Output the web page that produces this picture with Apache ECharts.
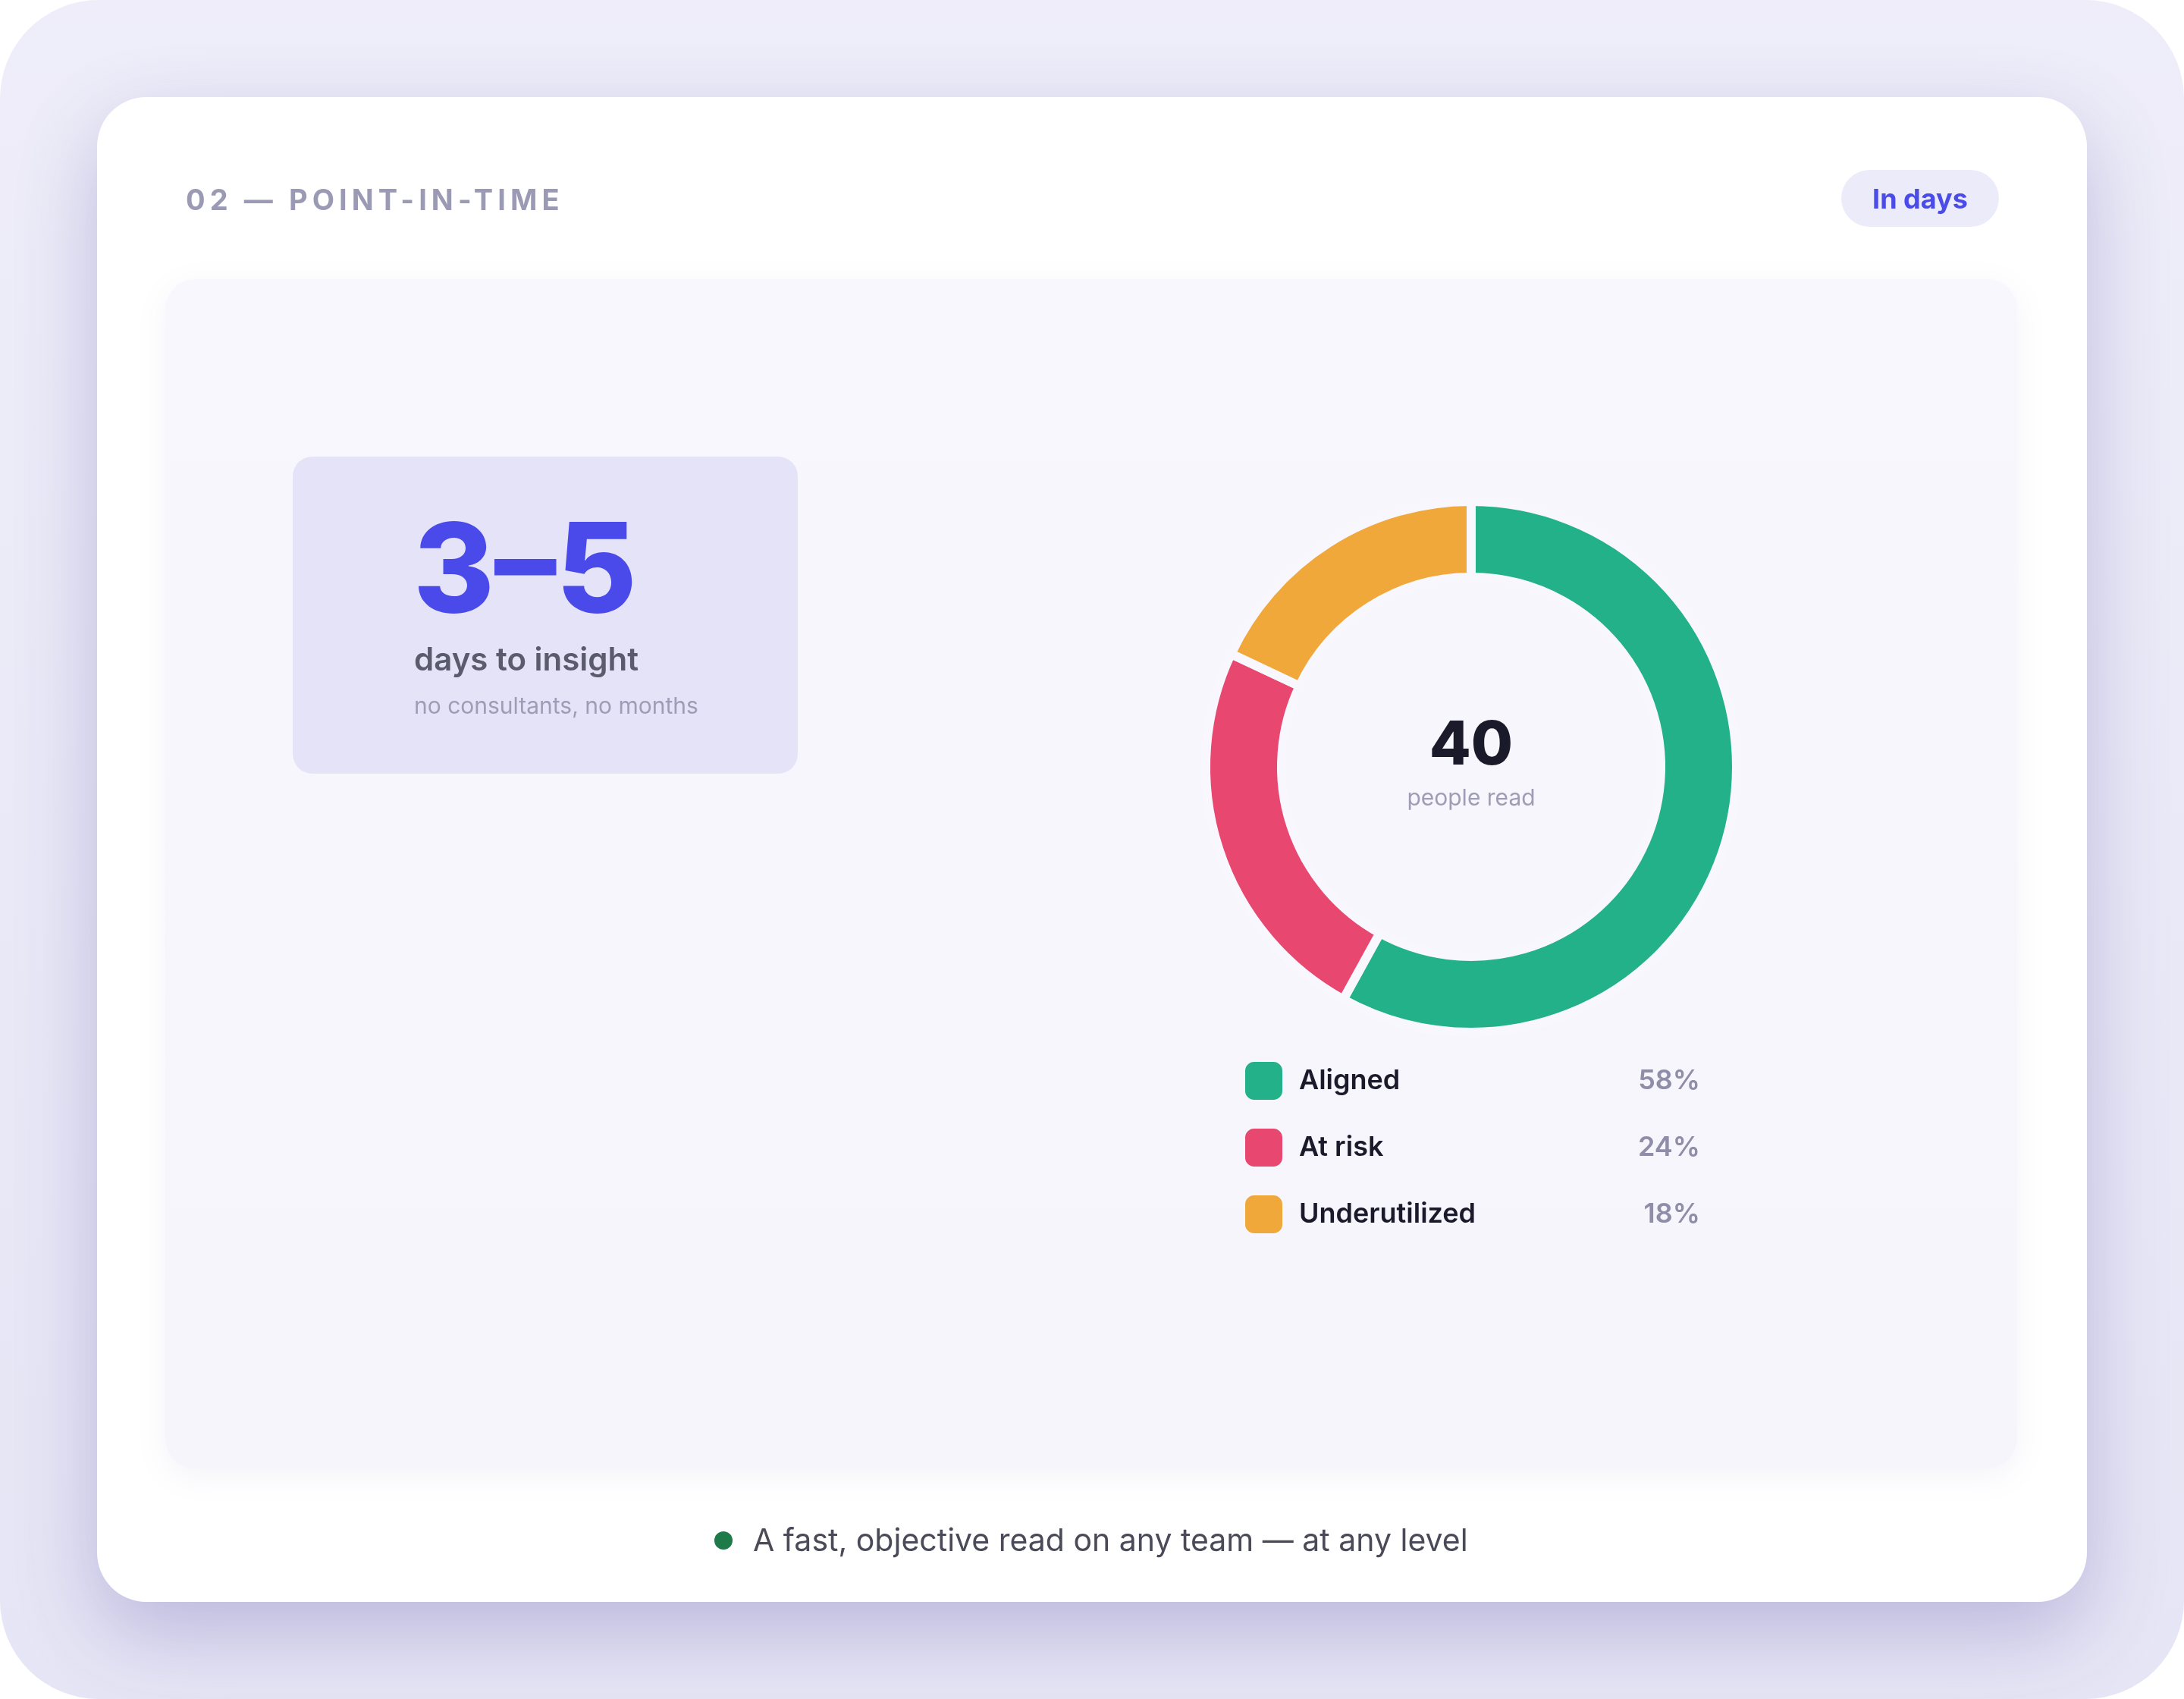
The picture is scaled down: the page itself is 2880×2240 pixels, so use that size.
<!DOCTYPE html>
<html>
<head>
<meta charset="utf-8">
<script src="https://cdn.jsdelivr.net/npm/echarts@6/dist/echarts.min.js"></script>
<style>
  html, body { margin: 0; padding: 0; background: #ffffff; }
  #wrap { position: relative; width: 2880px; height: 2240px; }
  #chart { position: absolute; left: 0; top: 0; width: 2880px; height: 2240px; }
  #title {
    position: absolute; left: 245px; top: 244px; z-index: 5; pointer-events: none;
    font-family: Inter, "Noto Sans", sans-serif; font-weight: 700; font-size: 38px;
    line-height: 38px; letter-spacing: 0.16em; color: #9B9AB5; white-space: nowrap;
  }
</style>
</head>
<body>
<div id="wrap">
  <div id="chart"></div>
  <div id="title">02 — POINT-IN-TIME</div>
</div>
<script>
// ---- data ----
const categories = ['Aligned', 'At risk', 'Underutilized'];
const shares = [58, 24, 18];            // percent of people read
const colors = ['#23B18A', '#E8476F', '#F1A83B'];
const totalPeople = 40;
const centerLabel = 'people read';
const badgeText = 'In days';
const statValue = '3–5';
const statLabel = 'days to insight';
const statNote = 'no consultants, no months';
const footerText = 'A fast, objective read on any team — at any level';

const FONT = 'Inter, "Noto Sans", sans-serif';
const chart = echarts.init(document.getElementById('chart'), null, { width: 2880, height: 2240, renderer: 'canvas' });

const pieData = categories.map((c, i) => ({ name: c, value: shares[i], itemStyle: { color: colors[i] } }));
const pctOf = {};
categories.forEach((c, i) => { pctOf[c] = shares[i] + '%'; });

function txt(x, y, text, size, weight, color, align) {
  return {
    type: 'text', z: 20, x: x, y: y,
    style: { text: text, fill: color, font: weight + ' ' + size + 'px ' + FONT, align: align || 'left', verticalAlign: 'middle' }
  };
}

const option = {
  backgroundColor: 'transparent',
  animation: false,
  graphic: [
    { type: 'rect', z: -30, shape: { x: 0, y: 0, width: 2880, height: 2240, r: 130 },
      style: { fill: new echarts.graphic.LinearGradient(0, 0, 0, 1, [{ offset: 0, color: '#EEEDF9' }, { offset: 1, color: '#E6E5F5' }]) } },
    { type: 'rect', z: -25, shape: { x: 128, y: 128, width: 2624, height: 1984, r: 65 },
      style: { fill: '#FFFFFF', shadowBlur: 110, shadowOffsetY: 40, shadowColor: 'rgba(70,60,150,0.28)' } },
    { type: 'rect', z: -20, shape: { x: 218, y: 368, width: 2442, height: 1568, r: 40 },
      style: { fill: new echarts.graphic.LinearGradient(0, 0, 0, 1, [{ offset: 0, color: '#F8F7FD' }, { offset: 1, color: '#F6F5FC' }]),
               shadowBlur: 40, shadowOffsetY: 10, shadowColor: 'rgba(90,80,170,0.07)' } },
    { type: 'rect', z: -15, shape: { x: 2428, y: 224, width: 208, height: 75, r: 37.5 }, style: { fill: '#ECEBFA' } },
    { type: 'rect', z: -15, shape: { x: 386, y: 602, width: 666, height: 418, r: 26 }, style: { fill: '#E5E3F8' } },
    txt(2532, 264, badgeText, 36, 700, '#4B4BE8', 'center'),
    txt(545, 758, statValue, 163, 800, '#4A4AEB'),
    txt(546, 871, statLabel, 42, 600, '#5B5B6E'),
    txt(546, 932, statNote, 30, 400, '#9F9DB6'),
    txt(1940, 984, String(totalPeople), 80, 800, '#1B1A2B', 'center'),
    txt(1940, 1053, centerLabel, 30, 400, '#9F9DB6', 'center'),
    { type: 'circle', z: 20, shape: { cx: 954, cy: 2031, r: 12 }, style: { fill: '#1F7A4A' } },
    txt(993, 2033, footerText, 41, 400, '#4A4A58')
  ],
  legend: {
    orient: 'vertical', left: 1640, top: 1398, padding: 0,
    itemWidth: 51, itemHeight: 52, itemGap: 34,
    icon: 'roundRect', selectedMode: false,
    data: categories,
    formatter: function (name) { return '{s| }{n|' + name + '}{p|' + pctOf[name] + '}'; },
    textStyle: {
      rich: {
        s: { width: 16 },
        n: { width: 429, fontFamily: FONT, fontSize: 36, fontWeight: 600, color: '#1B1A2B' },
        p: { width: 100, align: 'right', fontFamily: FONT, fontSize: 36, fontWeight: 600, color: '#8F8DA8' }
      }
    }
  },
  series: [{
    type: 'pie',
    center: [1940, 1011],
    radius: [250, 350],
    startAngle: 90,
    clockwise: true,
    label: { show: false },
    labelLine: { show: false },
    emphasis: { disabled: true },
    itemStyle: { borderColor: '#F8F7FD', borderWidth: 12 },
    data: pieData
  }]
};
chart.setOption(option);
</script>
</body>
</html>
